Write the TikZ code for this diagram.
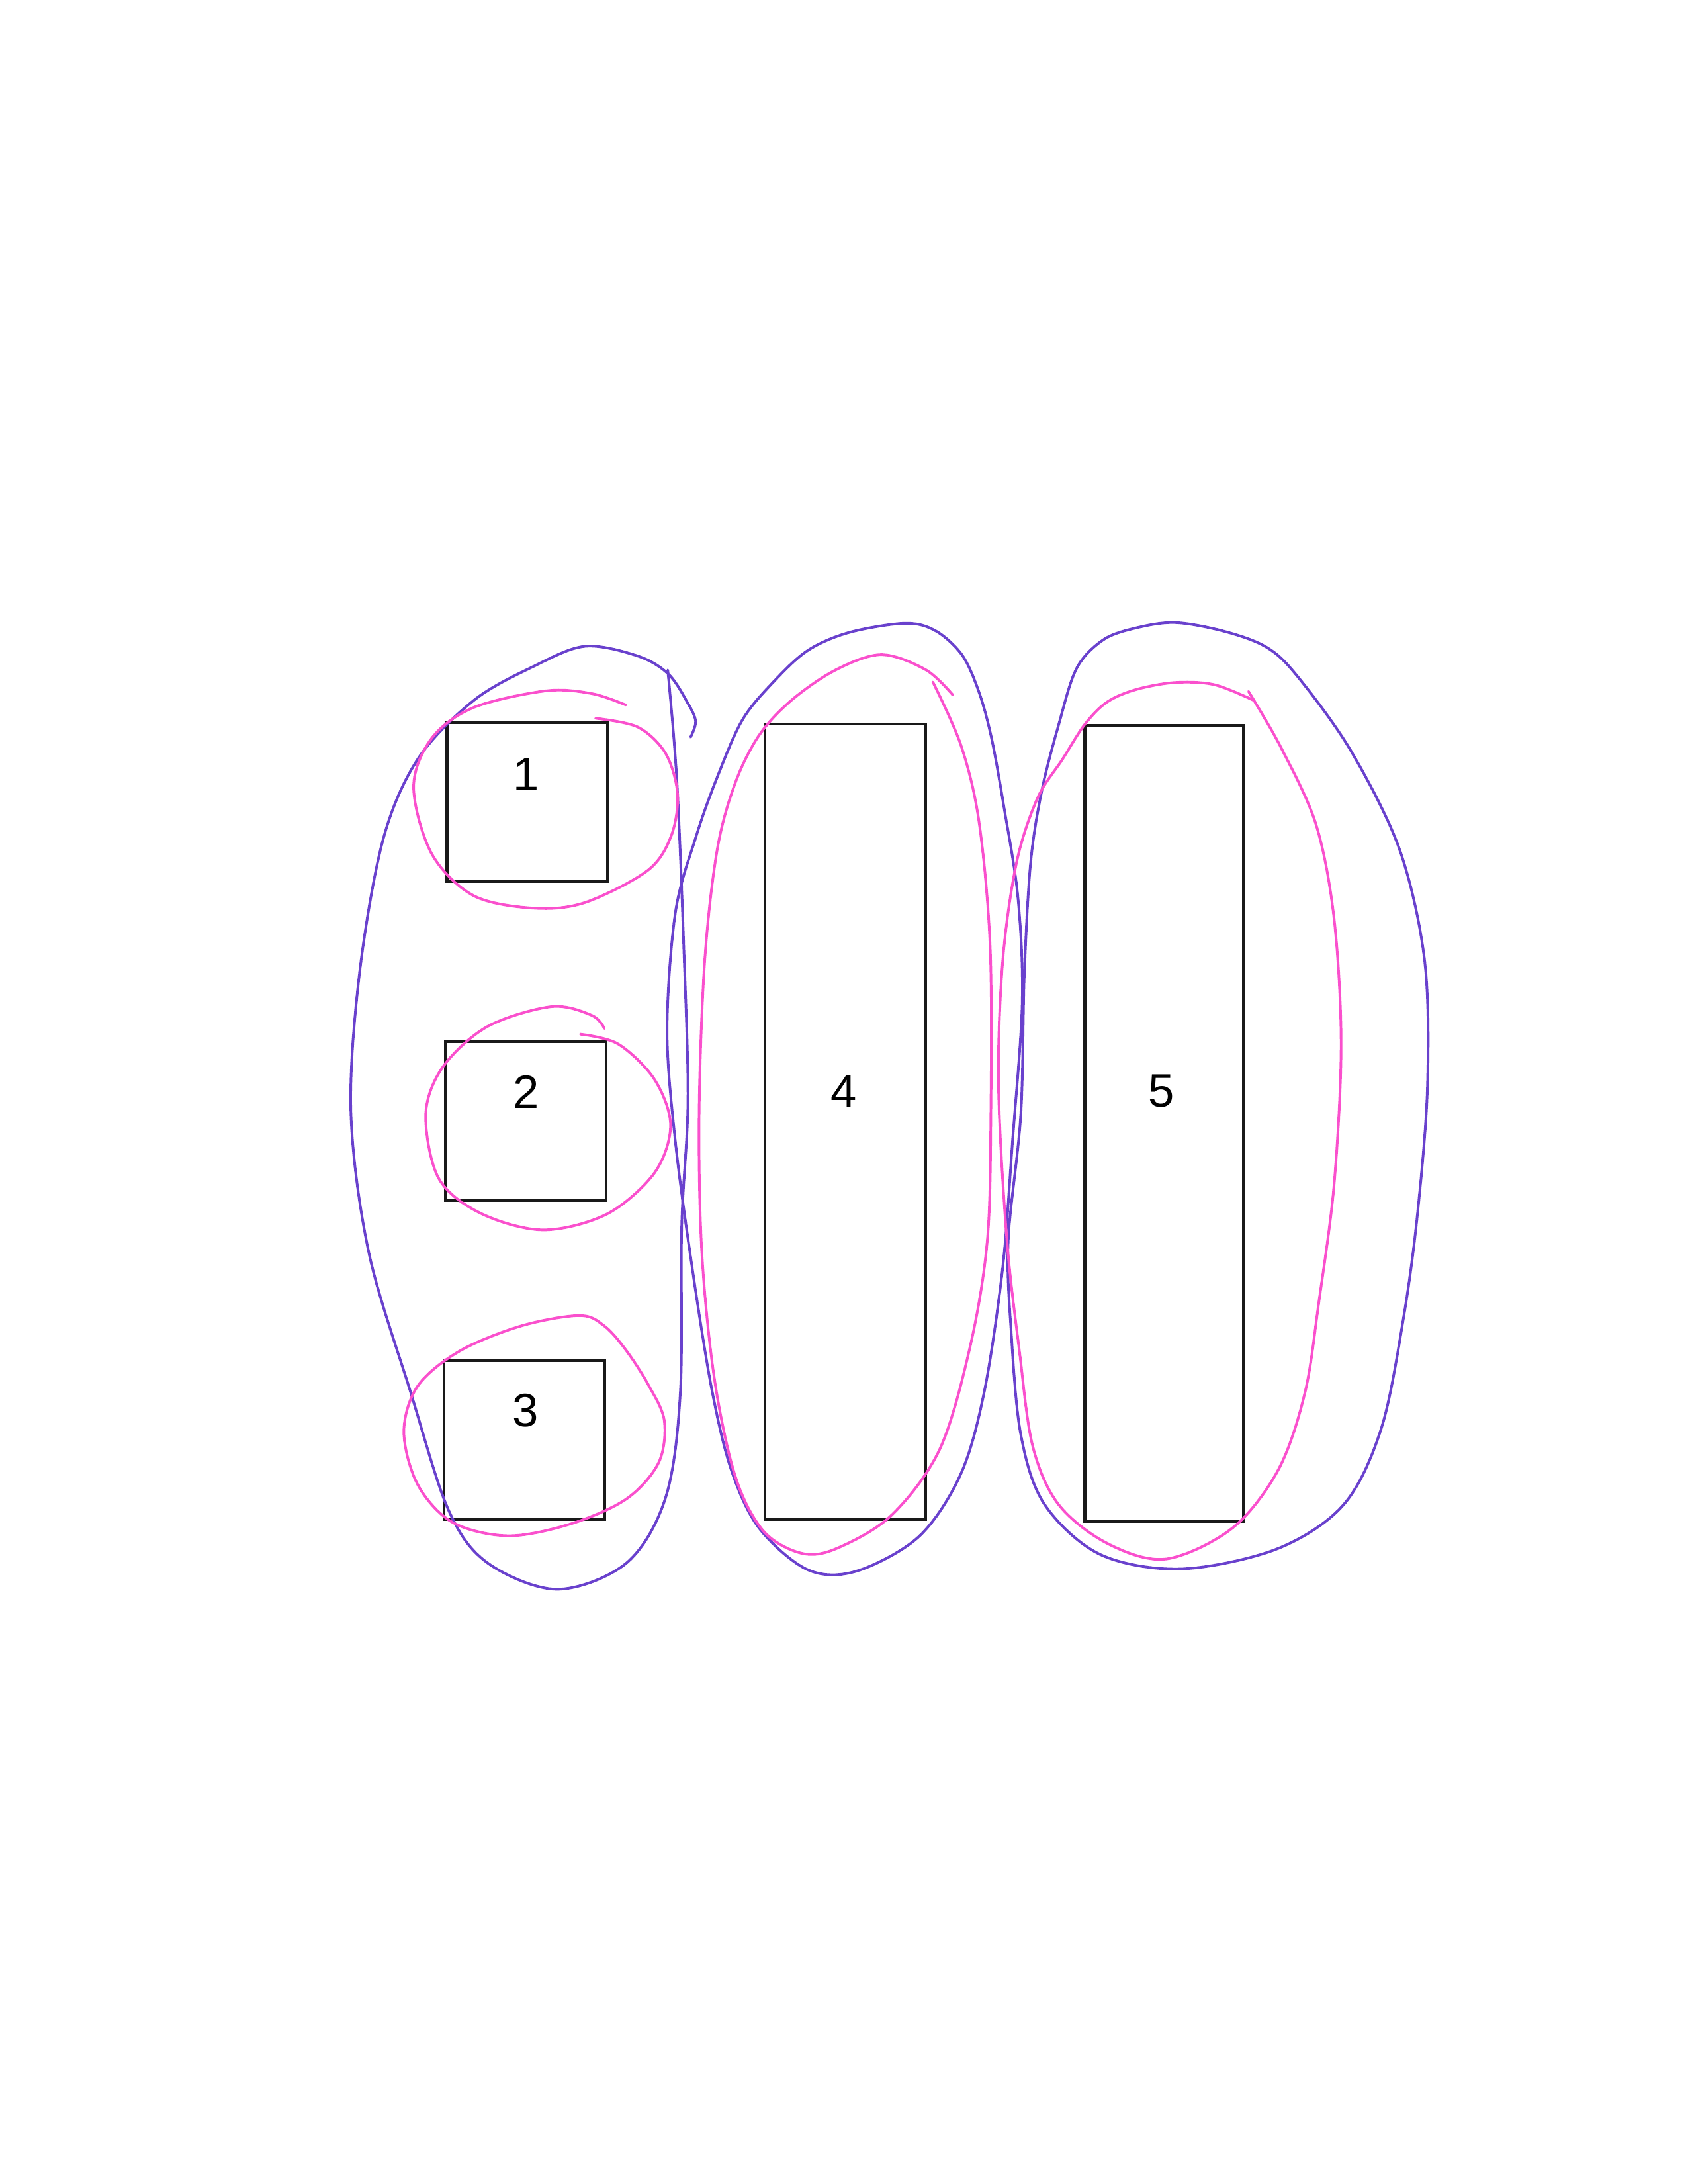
\documentclass[tikz,border=0pt]{standalone}
\usepackage{fontspec}
\setmainfont{Liberation Sans}
\definecolor{penpurple}{RGB}{105,65,205}
\definecolor{penpink}{RGB}{250,80,205}
\begin{document}
\begin{tikzpicture}[x=0.017814cm, y=-0.017814cm,
  box/.style={draw=black!90, line width=1pt, inner sep=0pt, minimum width=2.049cm, minimum height=2.031cm},
  tallbox/.style={box, minimum height=10.172cm},
  digit/.style={font=\fontsize{17}{20}\selectfont, inner sep=0pt},
  purplepen/.style={draw=penpurple, line width=0.95pt, line cap=round, line join=round},
  pinkpen/.style={draw=penpink, line width=0.95pt, line cap=round, line join=round}]
\useasboundingbox (0,0) rectangle (1212,1568);
\fill[white] (0,0) rectangle (1212,1568);

% boxes
\node[box] (b1) at (378.5,576) {};
\node[box] (b2) at (377.5,805) {};
\node[box] (b3) at (376.5,1034) {};
\node[tallbox] (b4) at (607,805.5) {};
\node[tallbox, minimum width=2.031cm] (b5) at (836,806.5) {};

% labels
\node[digit] (l1) at (378,556) {1};
\node[digit] (l2) at (378,784) {2};
\node[digit] (l3) at (377.5,1012.5) {3};
\node[digit] (l4) at (606,783.5) {4};
\node[digit] (l5) at (834,783.5) {5};

% purple loop A (boxes 1-3)
\draw[purplepen] plot[smooth, tension=0.55] coordinates {
(479.5,481) (486,560) (491,680) (494,790) (489.5,880) (488.5,1000) (478,1075) (450,1122) (400,1141) (350,1122) (322,1084) (295,1000) (265,900) (252,800) (258,700) (275,603) (300,545) (340,503) (383,478.5) (420,464) (458,471) (480,484) (494,505) (499.5,518) (495.9,529.2)};

% purple loop B (box 4)
\draw[purplepen] plot[smooth cycle, tension=0.55] coordinates {
(650,447.5) (672,453) (691,470.5) (703,497) (712,530) (721,580) (731,645) (734,720) (727,820) (720,910) (707,998) (690,1058) (660,1103) (615,1128) (580,1127) (545,1097) (525,1055) (511,997) (497,910) (485,820) (479,740) (485,655) (500,600) (515,558) (533,517) (555,490) (580,467) (610,454)};

% purple loop C (box 5)
\draw[purplepen] plot[smooth cycle, tension=0.55] coordinates {
(844,447) (880,453.5) (910,465) (932,486) (970,539) (1005,610) (1023,690) (1025,780) (1018,870) (1008,945) (992,1025) (965,1080) (917,1112) (848,1126.4) (790,1116) (750,1080) (733,1030) (726,955) (724,890) (733,800) (735.5,700) (740,620) (748,568) (760,521) (773,480) (792,459.5) (815,451)};

% pink loop 1
\draw[pinkpen] plot[smooth, tension=0.55] coordinates {
(427.7,515.7) (458,522) (478,541) (486.5,570) (482,600) (465,625) (420,648) (383,652) (340,643) (310,613) (297,565) (310,530) (340,508) (392,496) (425,498) (449.5,506.2)};

% pink loop 2
\draw[pinkpen] plot[smooth, tension=0.55] coordinates {
(416.7,742.5) (444,749.6) (470,775) (481.5,808) (470,842) (436,871.5) (390,883) (345,871) (315,846) (305.7,800) (318,766) (350,737) (396,722.7) (425,729) (434,738.5)};

% pink loop 3
\draw[pinkpen] plot[smooth cycle, tension=0.55] coordinates {
(416,944.5) (374,952) (330,970) (300,995) (290,1028) (300,1066) (325,1093) (365,1102.6) (410,1094) (450,1076) (473,1050) (477,1020) (466,995) (450,970) (434,952)};

% pink loop B
\draw[pinkpen] plot[smooth, tension=0.55] coordinates {
(669.8,489.6) (690,535) (703,590) (711,680) (711.5,800) (709,890) (697,965) (675,1040) (640,1088) (600,1112) (575,1115) (548,1099) (528,1060) (513,990) (504,900) (502,800) (506,690) (515,610) (528,562) (545,528) (568,503) (600,481) (633,470) (665,481) (684.3,499.1)};

% pink loop C
\draw[pinkpen] plot[smooth, tension=0.55] coordinates {
(896.5,496.4) (920,537) (945,592) (958,660) (963,750) (958,850) (947,935) (937,1000) (918,1055) (885,1097) (837,1119.3) (795,1108) (760,1080) (741.5,1038) (732,970) (723,890) (717,780) (720,690) (730,619) (745,573) (763,545) (779,520) (795,504) (816,495) (844,490) (872,491.6) (900.2,502.8)};
\end{tikzpicture}
\end{document}
